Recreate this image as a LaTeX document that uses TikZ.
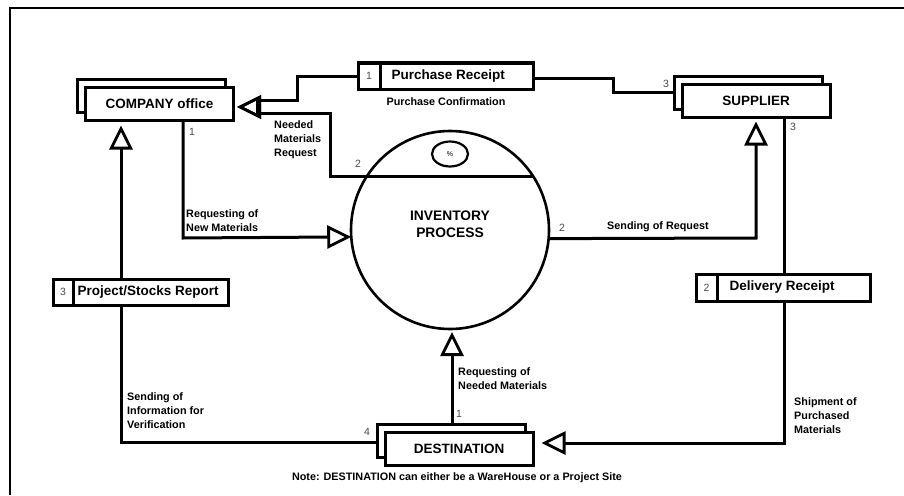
\documentclass[tikz,border=0pt]{standalone}
\usepackage{fontspec}
\setmainfont{Liberation Sans}
\usetikzlibrary{arrows.meta,shapes.geometric,shadows}
\begin{document}
\begin{tikzpicture}[x=1pt,y=-1pt,
  flow/.style={line width=3pt, line join=miter},
  tri/.style={-{Triangle[open,length=24pt,width=23pt,line width=2.8pt]}},
  entity/.style={draw, line width=3pt, fill=white, minimum width=148pt,
    minimum height=33pt, inner sep=0pt,
    font=\fontsize{13.5}{16}\selectfont\bfseries,
    copy shadow={shadow xshift=-8pt, shadow yshift=8pt, line width=3pt,
      draw=black, fill=white}},
  cell/.style={draw, line width=3pt, fill=white, minimum height=26pt,
    inner sep=0pt, text=black!70, font=\fontsize{10.5}{12}\selectfont},
  storetxt/.style={anchor=west, inner sep=0pt,
    font=\fontsize{13.5}{16}\selectfont\bfseries},
  lbl/.style={align=left, anchor=west, inner sep=0pt,
    font=\fontsize{10.8}{14}\selectfont\bfseries},
  num/.style={inner sep=0pt, text=black!70, font=\fontsize{10.5}{12}\selectfont},
]
\useasboundingbox (0,0) rectangle (904,495);
\fill[white] (0,0) rectangle (904,495);
% frame
\draw[line width=2.4pt] (10,495) -- (10,8) -- (904,8);

% external entities
\node[entity] (company) at (159.5,103.5) {COMPANY office};
\node[entity] (supplier) at (756,100.5) {SUPPLIER};
\node[entity] (dest) at (459,448.5) {DESTINATION};

% process
\node[draw, circle, line width=2.6pt, minimum size=198pt, inner sep=0pt,
  outer sep=0pt] (proc) at (450,230) {};
\node[align=center, inner sep=0pt, font=\fontsize{13.8}{17}\selectfont\bfseries]
  (ptxt) at (450,224.5) {INVENTORY\\PROCESS};
\node[draw, ellipse, line width=2.2pt, minimum width=36pt, minimum height=25pt,
  inner sep=0pt, font=\fontsize{7}{8}\selectfont] (pct) at (450,154) {\%};

% data stores
\node[cell, minimum width=22pt] (pr1) at (369,76) {1};
\node[cell, minimum width=153pt] (pr) at (456.5,76) {};
\node[storetxt] (prt) at ([xshift=13pt]pr.west) {Purchase Receipt};

\node[cell, minimum width=21pt, minimum height=27pt] (dr1) at (706.5,287.5) {2};
\node[cell, minimum width=153pt, minimum height=27pt] (dr) at (793.5,287.5) {};
\node[storetxt] (drt) at ([xshift=14pt]dr.west) {Delivery Receipt};

\node[cell, minimum width=20pt] (psr1) at (63,292) {3};
\node[cell, minimum width=155pt] (psr) at (150.5,292) {};
\node[storetxt] (psrt) at ([xshift=6pt]psr.west) {Project/Stocks Report};

% bend points
\coordinate (coTip) at (237,107);
\coordinate (coBase) at (257,107);
\coordinate (prl) at (297,100);
\coordinate (nmr) at (330,113);
\coordinate (prs) at (613,78);
\coordinate (rnm) at (183,238);
\coordinate (sr) at (756,238);
\coordinate (dlx) at (784,443);
\coordinate (rnd) at (452,380);
\coordinate (inf) at (121,442);

% flows
\draw[flow] ([xshift=-8pt,yshift=8pt]supplier.west) -| (prs) -- (pr.east |- prs);
\draw[flow,tri] (pr1.west) -| (prl) -- (prl -| coBase) -- (coBase) -- (coTip);
\draw[flow,tri] (proc.33) -- (proc.33 -| nmr) -- (nmr) -- (nmr -| coBase)
  -- (coBase) -- (coTip);
\draw[flow,tri] (company.south -| rnm) -- (rnm) -- (proc.184.6);
\draw[flow,tri,shorten >=3pt] (proc.355.4) -- (sr) -- (sr |- supplier.south);
\draw[flow] (supplier.south -| dlx) -- (dr.north -| dlx);
\draw[flow,tri,shorten >=7pt] (dr.south -| dlx) -- (dlx) -- (dest.east |- dlx);
\draw[flow,tri,shorten >=3pt] ([yshift=8pt]dest.north -| rnd) -- (proc.south -| rnd);
\draw[flow] ([xshift=-8pt]dest.west |- inf) -- (inf) -- (psr.south -| inf);
\draw[flow,tri,shorten >=4pt] (psr.north -| inf) -- (company.south -| inf);

% flow labels
\node[lbl] (l1) at (274,140) {Needed\\Materials\\Request};
\node[lbl, anchor=center] (l2) at (446,102) {Purchase Confirmation};
\node[lbl] (l3) at (186,221) {Requesting of\\New Materials};
\node[lbl] (l4) at (607,227) {Sending of Request};
\node[lbl] (l5) at (458,379) {Requesting of\\Needed Materials};
\node[lbl] (l6) at (127,411) {Sending of\\Information for\\Verification};
\node[lbl] (l7) at (794,416) {Shipment of\\Purchased\\Materials};
\node[lbl, anchor=center] (note) at (457,478)
  {Note: DESTINATION can either be a WareHouse or a Project Site};

% port numbers
\node[num] (n1) at (192,132) {1};
\node[num] (n2) at (666,84) {3};
\node[num] (n3) at (793,127) {3};
\node[num] (n4) at (358,164) {2};
\node[num] (n5) at (562,228) {2};
\node[num] (n6) at (459,414) {1};
\node[num] (n7) at (367,432) {4};
\end{tikzpicture}
\end{document}
